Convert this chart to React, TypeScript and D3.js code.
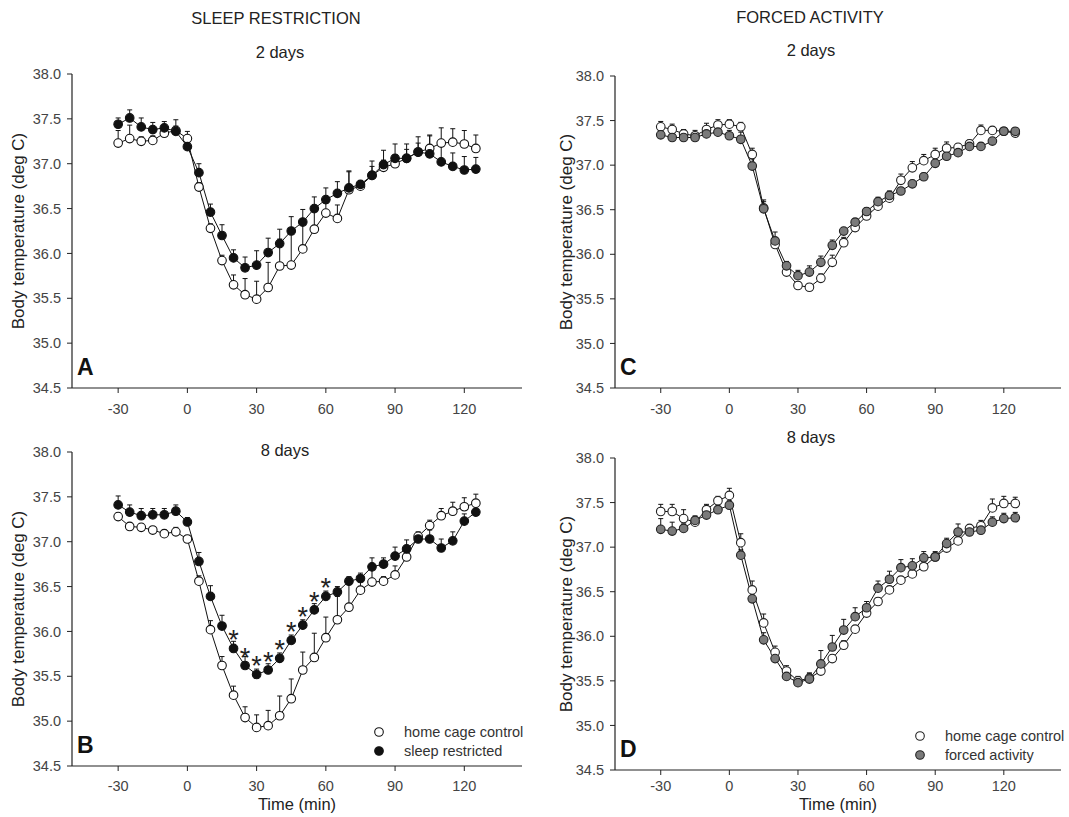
import React from "react";
import * as d3 from "d3";

// sampling times (min)
const times = [-30, -25, -20, -15, -10, -5, 0, 5, 10, 15, 20, 25, 30, 35, 40, 45, 50, 55, 60, 65, 70, 75, 80, 85, 90, 95, 100, 105, 110, 115, 120, 125];

const xTicks = [-30, 0, 30, 60, 90, 120];
const yTicks = [34.5, 35.0, 35.5, 36.0, 36.5, 37.0, 37.5, 38.0];
const starTimes = [20, 25, 30, 35, 40, 45, 50, 55, 60];

// sleep restriction, 2 days
const srCtrl2 = [37.23, 37.28, 37.25, 37.26, 37.34, 37.37, 37.28, 36.74, 36.28, 35.92, 35.65, 35.54, 35.49, 35.62, 35.86, 35.87, 36.05, 36.27, 36.45, 36.39, 36.71, 36.75, 36.87, 36.96, 37.0, 37.06, 37.13, 37.17, 37.23, 37.24, 37.22, 37.17];
const srCtrl2Err = [0.14, 0.15, 0.05, 0.05, 0.05, 0.05, 0.08, 0.05, 0.05, 0.06, 0.11, 0.18, 0.2, 0.28, 0.3, 0.4, 0.3, 0.24, 0.11, 0.15, 0.2, 0.05, 0.1, 0.08, 0.1, 0.1, 0.1, 0.15, 0.17, 0.15, 0.15, 0.15];
const srRest2 = [37.44, 37.51, 37.41, 37.38, 37.4, 37.36, 37.19, 36.9, 36.46, 36.2, 35.95, 35.84, 35.87, 36.01, 36.11, 36.25, 36.35, 36.5, 36.6, 36.67, 36.73, 36.77, 36.87, 36.99, 37.06, 37.06, 37.13, 37.11, 37.02, 36.97, 36.93, 36.94];
const srRest2Err = [0.07, 0.09, 0.1, 0.08, 0.07, 0.13, 0.05, 0.1, 0.09, 0.12, 0.09, 0.12, 0.16, 0.16, 0.16, 0.16, 0.14, 0.13, 0.13, 0.13, 0.19, 0.04, 0.16, 0.16, 0.16, 0.16, 0.17, 0.2, 0.19, 0.15, 0.15, 0.13];

// sleep restriction, 8 days
const srCtrl8 = [37.28, 37.17, 37.16, 37.13, 37.09, 37.11, 37.03, 36.56, 36.02, 35.62, 35.29, 35.04, 34.93, 34.95, 35.06, 35.25, 35.57, 35.71, 35.93, 36.13, 36.27, 36.46, 36.55, 36.56, 36.63, 36.83, 37.06, 37.18, 37.29, 37.34, 37.39, 37.43];
const srCtrl8Err = [0.04, 0.04, 0.04, 0.04, 0.04, 0.05, 0.04, 0.06, 0.1, 0.1, 0.1, 0.12, 0.14, 0.17, 0.22, 0.22, 0.2, 0.27, 0.23, 0.26, 0.25, 0.15, 0.15, 0.05, 0.1, 0.05, 0.05, 0.06, 0.08, 0.1, 0.1, 0.1];
const srRest8 = [37.41, 37.33, 37.29, 37.3, 37.3, 37.34, 37.22, 36.78, 36.39, 36.06, 35.81, 35.62, 35.52, 35.57, 35.7, 35.9, 36.07, 36.24, 36.39, 36.44, 36.56, 36.59, 36.72, 36.75, 36.84, 36.92, 37.03, 37.03, 36.93, 37.01, 37.23, 37.33];
const srRest8Err = [0.1, 0.08, 0.08, 0.07, 0.07, 0.07, 0.05, 0.1, 0.12, 0.12, 0.08, 0.1, 0.06, 0.07, 0.06, 0.06, 0.06, 0.07, 0.06, 0.06, 0.05, 0.06, 0.1, 0.07, 0.1, 0.1, 0.06, 0.1, 0.1, 0.1, 0.08, 0.06];

// forced activity, 2 days
const faCtrl2 = [37.43, 37.4, 37.35, 37.33, 37.4, 37.45, 37.46, 37.43, 37.12, 36.52, 36.11, 35.8, 35.65, 35.63, 35.73, 35.91, 36.13, 36.3, 36.43, 36.54, 36.63, 36.83, 36.97, 37.05, 37.12, 37.19, 37.2, 37.24, 37.39, 37.39, 37.38, 37.36];
const faCtrl2Err = [0.06, 0.06, 0.05, 0.06, 0.07, 0.06, 0.05, 0.05, 0.07, 0.07, 0.05, 0.04, 0.04, 0.04, 0.05, 0.08, 0.06, 0.05, 0.04, 0.04, 0.04, 0.07, 0.07, 0.07, 0.07, 0.07, 0.04, 0.04, 0.06, 0.04, 0.04, 0.04];
const faAct2 = [37.34, 37.31, 37.31, 37.31, 37.35, 37.37, 37.33, 37.29, 36.99, 36.51, 36.15, 35.87, 35.76, 35.8, 35.91, 36.1, 36.26, 36.36, 36.48, 36.59, 36.66, 36.71, 36.79, 36.87, 37.02, 37.1, 37.14, 37.21, 37.21, 37.27, 37.38, 37.38];
const faAct2Err = [0.04, 0.04, 0.04, 0.05, 0.06, 0.06, 0.06, 0.08, 0.08, 0.1, 0.1, 0.05, 0.06, 0.07, 0.07, 0.06, 0.04, 0.04, 0.04, 0.05, 0.05, 0.04, 0.04, 0.04, 0.04, 0.04, 0.04, 0.04, 0.04, 0.04, 0.04, 0.04];

// forced activity, 8 days
const faCtrl8 = [37.4, 37.4, 37.32, 37.28, 37.42, 37.52, 37.58, 37.05, 36.52, 36.15, 35.82, 35.61, 35.5, 35.53, 35.61, 35.75, 35.9, 36.08, 36.26, 36.39, 36.52, 36.63, 36.7, 36.78, 36.89, 36.99, 37.07, 37.21, 37.24, 37.44, 37.49, 37.49];
const faCtrl8Err = [0.08, 0.08, 0.1, 0.05, 0.06, 0.05, 0.08, 0.1, 0.1, 0.1, 0.07, 0.06, 0.05, 0.06, 0.03, 0.04, 0.05, 0.04, 0.04, 0.04, 0.04, 0.04, 0.04, 0.04, 0.04, 0.04, 0.04, 0.04, 0.06, 0.1, 0.08, 0.07];
const faAct8 = [37.2, 37.18, 37.21, 37.3, 37.36, 37.42, 37.47, 36.91, 36.42, 35.96, 35.75, 35.55, 35.48, 35.52, 35.69, 35.88, 36.07, 36.22, 36.32, 36.54, 36.64, 36.77, 36.79, 36.88, 36.89, 37.04, 37.17, 37.17, 37.19, 37.28, 37.32, 37.33];
const faAct8Err = [0.12, 0.1, 0.05, 0.05, 0.05, 0.04, 0.05, 0.06, 0.08, 0.08, 0.07, 0.05, 0.06, 0.06, 0.15, 0.13, 0.12, 0.1, 0.07, 0.08, 0.09, 0.09, 0.08, 0.07, 0.06, 0.06, 0.09, 0.06, 0.06, 0.06, 0.06, 0.06];

const FONT = "'Liberation Sans', Arial, Helvetica, sans-serif";
const R = 4.3;

type Series = { values: number[]; err: number[]; fill: string; stroke: string };

type PanelProps = {
  x0: number; x1: number; y0: number; y1: number;
  letter: string; title: string; titleX: number; titleY: number;
  labelX: number; tickLabelY: number; series: Series[];
  legend?: { x: number; y: number; labels: string[] };
  stars?: boolean; timeLabelY?: number;
};

function Panel(p: PanelProps) {
  const x = d3.scaleLinear().domain([-50, 145]).range([p.x0, p.x1]);
  const y = d3.scaleLinear().domain([34.5, 38.0]).range([p.y1, p.y0]);
  const line = d3.line<number>().x((_, i) => x(times[i])).y((v) => y(v));
  const tickCol = "#444";

  return (
    <g>
      <text x={p.titleX} y={p.titleY} textAnchor="middle" fontSize={16.5} fill="#222">{p.title}</text>
      <text transform={`translate(${p.labelX},${(p.y0 + p.y1) / 2}) rotate(-90)`} textAnchor="middle" dy="0.35em" fontSize={17} fill="#222">Body temperature (deg C)</text>
      {/* axes */}
      <line x1={p.x0} x2={p.x0} y1={p.y0} y2={p.y1} stroke="#222" strokeWidth={1.2} />
      <line x1={p.x0} x2={p.x1} y1={p.y1} y2={p.y1} stroke="#222" strokeWidth={1.2} />
      {yTicks.map((t) => (
        <g key={"y" + t}>
          <line x1={p.x0 - 5} x2={p.x0} y1={y(t)} y2={y(t)} stroke="#222" />
          <text x={p.x0 - 11} y={y(t)} dy="0.35em" textAnchor="end" fontSize={14.5} fill={tickCol}>{t.toFixed(1)}</text>
        </g>
      ))}
      {xTicks.map((t) => (
        <g key={"x" + t}>
          <line x1={x(t)} x2={x(t)} y1={p.y1} y2={p.y1 + 5} stroke="#222" />
          <text x={x(t)} y={p.tickLabelY} textAnchor="middle" fontSize={14.5} fill={tickCol}>{t}</text>
        </g>
      ))}
      {p.timeLabelY !== undefined && (
        <text x={x(47.5)} y={p.timeLabelY} textAnchor="middle" fontSize={16.5} fill="#222">Time (min)</text>
      )}
      {/* lines */}
      {p.series.map((s, k) => (
        <path key={"l" + k} d={line(s.values) || ""} fill="none" stroke="#111" strokeWidth={1} />
      ))}
      {/* error bars */}
      {p.series.map((s, k) => (
        <g key={"e" + k} stroke="#111" strokeWidth={1}>
          {s.values.map((v, i) => (
            <g key={i}>
              <line x1={x(times[i])} x2={x(times[i])} y1={y(v)} y2={y(v + s.err[i])} />
              <line x1={x(times[i]) - 2.5} x2={x(times[i]) + 2.5} y1={y(v + s.err[i])} y2={y(v + s.err[i])} />
            </g>
          ))}
        </g>
      ))}
      {/* markers */}
      {p.series.map((s, k) => (
        <g key={"m" + k}>
          {s.values.map((v, i) => (
            <circle key={i} cx={x(times[i])} cy={y(v)} r={R} fill={s.fill} stroke={s.stroke} strokeWidth={1.1} />
          ))}
        </g>
      ))}
      {p.stars && starTimes.map((t) => {
        const i = times.indexOf(t);
        return (
          <text key={"s" + t} x={x(t)} y={y(p.series[1].values[i]) + 1} textAnchor="middle" fontSize={27} fill="#222">*</text>
        );
      })}
      <text x={p.x0 + 5} y={p.y1 - 13} fontSize={23} fontWeight="bold" fill="#111">{p.letter}</text>
      {p.legend && p.legend.labels.map((lab, k) => (
        <g key={"lg" + k}>
          <circle cx={p.legend!.x} cy={p.legend!.y + k * 19} r={R} fill={p.series[k].fill} stroke={p.series[k].stroke} strokeWidth={1.1} />
          <text x={p.legend!.x + 25} y={p.legend!.y + k * 19} dy="0.35em" fontSize={14.5} fill="#333">{lab}</text>
        </g>
      ))}
    </g>
  );
}

export default function App() {
  const white = "#ffffff";
  const black = "#111111";
  const gray = "#7a7a7a";
  return (
    <svg width={1069} height={817} style={{ position: "absolute", left: 0, top: 0, background: "#fff" }} fontFamily={FONT}>
      <text x={276} y={24} textAnchor="middle" fontSize={16.5} fill="#222">SLEEP RESTRICTION</text>
      <text x={810} y={23} textAnchor="middle" fontSize={16.5} fill="#222">FORCED ACTIVITY</text>
      <Panel x0={72} x1={522} y0={74} y1={388} letter="A" title="2 days" titleX={280} titleY={58} labelX={18}
        tickLabelY={414}
        series={[
          { values: srCtrl2, err: srCtrl2Err, fill: white, stroke: black },
          { values: srRest2, err: srRest2Err, fill: black, stroke: black },
        ]} />
      <Panel x0={72} x1={522} y0={452} y1={766} letter="B" title="8 days" titleX={285} titleY={456} labelX={18}
        tickLabelY={791} stars timeLabelY={810} legend={{ x: 379, y: 732, labels: ["home cage control", "sleep restricted"] }}
        series={[
          { values: srCtrl8, err: srCtrl8Err, fill: white, stroke: black },
          { values: srRest8, err: srRest8Err, fill: black, stroke: black },
        ]} />
      <Panel x0={615} x1={1061} y0={76} y1={388} letter="C" title="2 days" titleX={811} titleY={56} labelX={566}
        tickLabelY={414}
        series={[
          { values: faCtrl2, err: faCtrl2Err, fill: white, stroke: "#222" },
          { values: faAct2, err: faAct2Err, fill: gray, stroke: "#222" },
        ]} />
      <Panel x0={615} x1={1061} y0={458} y1={770} letter="D" title="8 days" titleX={811} titleY={443} labelX={566}
        tickLabelY={791} timeLabelY={810} legend={{ x: 920, y: 736, labels: ["home cage control", "forced activity"] }}
        series={[
          { values: faCtrl8, err: faCtrl8Err, fill: white, stroke: "#222" },
          { values: faAct8, err: faAct8Err, fill: gray, stroke: "#222" },
        ]} />
    </svg>
  );
}
